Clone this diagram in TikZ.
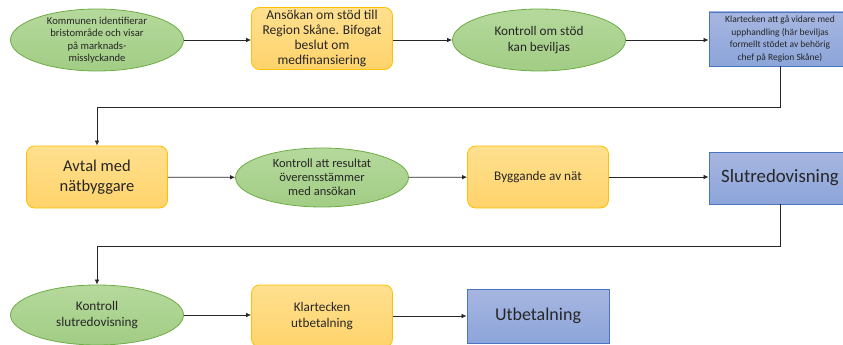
\documentclass[tikz,border=0pt]{standalone}
\usepackage{fontspec}
\setmainfont{Carlito}
\usetikzlibrary{shapes.geometric,arrows.meta,positioning}
\definecolor{gronljus}{HTML}{B5D99C}
\definecolor{gronmork}{HTML}{A2CD85}
\definecolor{gronkant}{HTML}{6FAC46}
\definecolor{guljus}{HTML}{FFE08F}
\definecolor{gulmork}{HTML}{FFD36B}
\definecolor{gulkant}{HTML}{FFC000}
\definecolor{blaljus}{HTML}{A7B6E0}
\definecolor{blamork}{HTML}{8CA5DA}
\definecolor{blakant}{HTML}{4A73C0}
\definecolor{texten}{HTML}{262626}
\newcommand{\textliten}{\fontsize{10.6}{12.4}\selectfont}
\newcommand{\textmellan}{\fontsize{13.2}{15.2}\selectfont}
\newcommand{\textstor}{\fontsize{16.5}{20}\selectfont}
\tikzset{
  kontroll/.style={
      draw=gronkant,
      ellipse,
      top color=gronljus,
      bottom color=gronmork,
      line width=0.8pt,
      align=center,
      text=texten,
      font=\textmellan,
      inner xsep=0pt,
      inner ysep=-10pt,
      minimum width=173pt,
      minimum height=62pt
  },
  steg/.style={
      draw=gulkant,
      rectangle,
      rounded corners=8pt,
      top color=guljus,
      bottom color=gulmork,
      line width=0.8pt,
      align=center,
      text=texten,
      font=\textmellan,
      inner sep=0pt,
      minimum width=141pt,
      minimum height=62pt
  },
  beslut/.style={
      draw=blakant,
      rectangle,
      top color=blaljus,
      bottom color=blamork,
      line width=0.8pt,
      align=center,
      text=texten,
      font=\textstor,
      inner sep=0pt,
      minimum width=142pt,
      minimum height=54pt
  },
  pil/.style={
      draw=black!85,
      line width=0.7pt,
      -{Latex[length=5pt,width=4.5pt]}
  }
}

\begin{document}
\begin{tikzpicture}[x=1pt,y=-1pt]
    \clip (0,0) rectangle (843,345);
    % rad 1
    \node[kontroll, font=\textliten] (komm) at (97,40) {Kommunen identifierar\\ bristområde och visar\\ på marknads-\\ misslyckande};
    \node[steg, font=\fontsize{13.5}{15.3}\selectfont] (ansok) at (322,38.5) {Ansökan om stöd till\\ Region Skåne. Bifogat\\ beslut om\\ medfinansiering};
    \node[kontroll] (kstod) at (539,40) {Kontroll om stöd\\ kan beviljas};
    \node[beslut, font=\fontsize{9.5}{12.6}\selectfont] (klar) at (780,39) {Klartecken att gå vidare med\\ upphandling (här beviljas\\ formellt stödet av behörig\\ chef på Region Skåne)};
    % rad 2
    \node[steg, font=\textstor] (avtal) at (97,177) {Avtal med\\ nätbyggare};
    \node[kontroll, minimum height=59pt, font=\fontsize{12.5}{14}\selectfont] (kres) at (322,177.5) {Kontroll att resultat\\ överensstämmer\\ med ansökan};
    \node[steg] (bygg) at (538,177) {Byggande av nät};
    \node[beslut, minimum height=52pt, font=\fontsize{18.8}{20}\selectfont] (slut) at (780,178) {Slutredovisning};
    % rad 3
    \node[kontroll, minimum height=60pt] (kslut) at (97,315) {Kontroll\\ slutredovisning};
    \node[steg] (klut) at (322,316) {Klartecken\\ utbetalning};
    \node[beslut, font=\fontsize{18}{20}\selectfont] (utbet) at (538,316) {Utbetalning};

    \coordinate (knack1) at (0,107);
    \coordinate (knack2) at (0,246.5);

    \draw[pil] (komm) -- (ansok.west |- komm);
    \draw[pil] (ansok.east |- kstod) -- (kstod);
    \draw[pil] (kstod) -- (klar.west |- kstod);
    \draw[pil] (klar.south) -- (klar.south |- knack1) -| (avtal.north);
    \draw[pil] (avtal) -- (kres);
    \draw[pil] (kres) -- (bygg);
    \draw[pil] (bygg) -- (slut.west |- bygg);
    \draw[pil] (slut.south) -- (slut.south |- knack2) -| (kslut.north);
    \draw[pil] (kslut) -- (klut.west |- kslut);
    \draw[pil] (klut) -- (utbet);
\end{tikzpicture}
\end{document}
